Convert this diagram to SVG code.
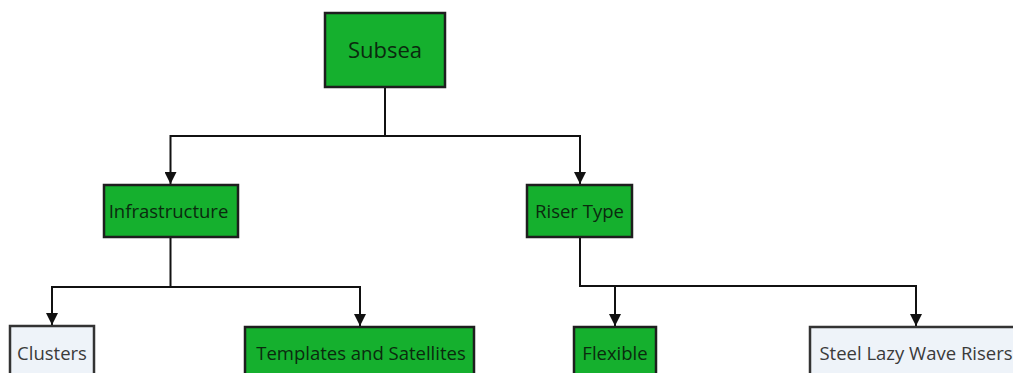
<svg xmlns="http://www.w3.org/2000/svg" width="1013" height="373" viewBox="0 0 1013 373">
  <style>
    .box-on { fill: #15b02e; stroke: #1e1e1e; stroke-width: 2.5; }
    .box-off { fill: #eef3f9; stroke: #333333; stroke-width: 2.5; }
    .lbl { font-family: "Open Sans", "Noto Sans", sans-serif; font-size: 18.5px; text-anchor: middle; dominant-baseline: central; }
    .lbl-on { fill: #0b2a0e; }
    .lbl-off { fill: #3a3a3a; }
    .wire { fill: none; stroke: #111111; stroke-width: 2; }
  </style>
  <defs>
    <marker id="tip" viewBox="0 0 12 12" refX="12" refY="6" markerWidth="12" markerHeight="12" markerUnits="userSpaceOnUse" orient="auto">
      <path d="M0,0 L12,6 L0,12 Z" fill="#111111"/>
    </marker>
  </defs>
  <rect width="1013" height="373" fill="#ffffff"/>

  <g id="connectors">
    <path class="wire" d="M385,87 V136 H170.5 V184" marker-end="url(#tip)"/>
    <path class="wire" d="M385,136 H580 V184" marker-end="url(#tip)"/>
    <path class="wire" d="M170.5,237 V287 H52 V325" marker-end="url(#tip)"/>
    <path class="wire" d="M170.5,287 H360 V326" marker-end="url(#tip)"/>
    <path class="wire" d="M580,237 V286 H615 V326" marker-end="url(#tip)"/>
    <path class="wire" d="M615,286 H916 V326" marker-end="url(#tip)"/>
  </g>

  <g id="node-subsea">
    <rect class="box-on" x="325" y="13" width="120" height="74"/>
    <text class="lbl lbl-on" x="385" y="49" style="font-size:22px">Subsea</text>
  </g>
  <g id="node-infrastructure">
    <rect class="box-on" x="104" y="185" width="134" height="52"/>
    <text class="lbl lbl-on" x="168.5" y="210">Infrastructure</text>
  </g>
  <g id="node-riser-type">
    <rect class="box-on" x="527" y="185" width="105" height="52"/>
    <text class="lbl lbl-on" x="579.5" y="210">Riser Type</text>
  </g>
  <g id="node-clusters">
    <rect class="box-off" x="10" y="326" width="84" height="60"/>
    <text class="lbl lbl-off" x="52" y="352">Clusters</text>
  </g>
  <g id="node-templates">
    <rect class="box-on" x="245" y="327" width="229" height="60"/>
    <text class="lbl lbl-on" x="361" y="352">Templates and Satellites</text>
  </g>
  <g id="node-flexible">
    <rect class="box-on" x="574" y="327" width="82" height="60"/>
    <text class="lbl lbl-on" x="615" y="352">Flexible</text>
  </g>
  <g id="node-steel-lazy-wave">
    <rect class="box-off" x="810" y="327" width="220" height="60"/>
    <text class="lbl lbl-off" x="916" y="352">Steel Lazy Wave Risers</text>
  </g>
</svg>
